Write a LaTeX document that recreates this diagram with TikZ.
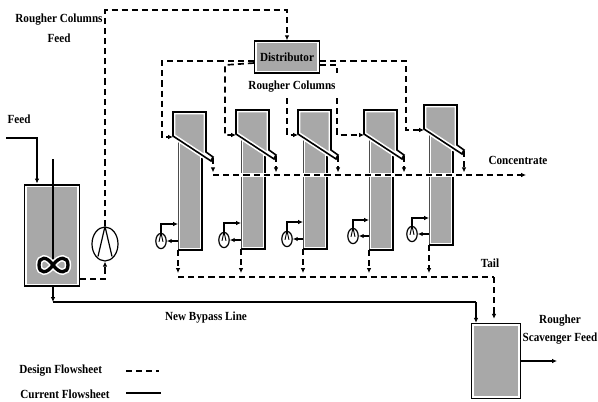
\documentclass[tikz,border=0pt]{standalone}
\usepackage{fontspec}
\setmainfont[FakeStretch=0.9]{Liberation Serif}
\usetikzlibrary{arrows.meta,shapes.geometric}
\definecolor{vesselgray}{HTML}{A8A8A8}
\tikzset{
  design/.style={line width=1.25pt,dash pattern=on 4.6pt off 3pt},
  current/.style={line width=0.9pt},
  tag/.style={font=\bfseries\fontsize{9.3}{10}\selectfont,inner sep=0pt},
  vessel/.style={draw=black,line width=1.1pt,fill=vesselgray,inner sep=0pt,
    path picture={\draw[white,line width=3.6pt] (path picture bounding box.south west)
      rectangle (path picture bounding box.north east);}},
  halo/.style={draw=white,fill=vesselgray,line width=3.6pt,line join=miter},
  pumpbig/.style={draw,ellipse,line width=0.9pt,minimum width=19.5pt,minimum height=25.5pt,inner sep=0pt},
  pumpsmall/.style={draw,ellipse,line width=0.9pt,minimum width=7.8pt,minimum height=11.4pt,inner sep=0pt}
}
\begin{document}
\begin{tikzpicture}[x=0.75pt,y=-0.75pt,>={Latex[length=1.3mm,width=1.2mm]}]
  \useasboundingbox (0,0) rectangle (598,401);
  % columns: number, left, top, bottom
  \foreach \n/\x/\y/\b in {1/173/112/250,2/236/110/249,3/298/110/249,4/364/110/250,5/424/105/245}{
    \begin{scope}[shift={(\x,\y)}]
      \path[halo] (5,30) -- (5,\b-\y) -- (29,\b-\y) -- (29,30) -- cycle;
      \draw[line width=0.7pt,black!70] (5,27) -- (5,\b-\y);
      \draw[line width=1.2pt] (5,\b-\y) -- (29,\b-\y) -- (29,46);
      \path[halo] (0,0) -- (33,0) -- (33,40) -- (40,45) -- (38,49) -- (0,24) -- cycle;
      \draw[line width=1.2pt,line join=miter] (0,24) -- (0,0) -- (33,0) -- (33,40) -- (40,45) -- (38,49) -- cycle;
      \coordinate (col\n-in) at (0,25);
      \coordinate (col\n-tip) at (40,46);
      \coordinate (col\n-out) at (5,\b-\y);
    \end{scope}
  }
  % units
  \node[vessel,minimum width=41.2pt,minimum height=76pt] (tank) at (52,235.5) {};
  \node[vessel,minimum width=36.7pt,minimum height=56.2pt] (scav) at (496,361) {};
  \node[pumpbig] (pump) at (105,244) {};
  \draw[line width=0.9pt] (pump.north) -- ++(-7,30) (pump.north) -- ++(7,30);
  \node[vessel,minimum width=48.6pt,minimum height=24pt,tag] (dist) at (287,57) {Distributor};
  % impeller
  \coordinate (shaft-top) at (53,159);
  \coordinate (imp) at (53,265);
  \draw[line width=1.3pt] (shaft-top) -- (imp);
  \begin{scope}[shift={(imp)}]
    \draw[line width=4.8pt,white] (0,0) .. controls (-6,-9) and (-14,-9) .. (-14,0) .. controls (-14,9) and (-6,9) .. (0,0)
      .. controls (6,-9) and (15,-9) .. (15,0) .. controls (15,9) and (6,9) .. (0,0);
    \draw[line width=2.5pt] (0,0) .. controls (-6,-9) and (-14,-9) .. (-14,0) .. controls (-14,9) and (-6,9) .. (0,0)
      .. controls (6,-9) and (15,-9) .. (15,0) .. controls (15,9) and (6,9) .. (0,0);
  \end{scope}
  % small pumps on the columns
  \foreach \n/\x/\y/\t in {1/161/241/224,2/224/240/223,3/287/239/222,4/353/236/220,5/412/234/218}{
    \node[pumpsmall] (pmp\n) at (\x,\y) {};
    \draw[line width=0.7pt] (pmp\n.north) -- ++(-2,9) (pmp\n.north) -- ++(2,9);
    \draw[current,->] (col\n-out |- pmp\n) -- (pmp\n);
    \draw[current,->] (pmp\n) -- (\x,\t) -- (col\n-out |- {(\x,\t)});
  }
  % feed
  \coordinate (feed-in) at (6,138);
  \draw[current,->] (feed-in) -- (37,138) -- (37,183.5);
  % pump up to the distributor
  \coordinate (tank-exit) at (80,279);
  \draw[design,->] (tank-exit) -- (pump |- tank-exit) -- (pump.south);
  \draw[design,->] (pump.north) -- (105,10) -- (287,10) -- (dist.north);
  % distributor to the columns
  \coordinate (dist-l1) at (254,61);
  \coordinate (dist-l2) at (254,63);
  \coordinate (dist-r1) at (320,61);
  \coordinate (dist-r2) at (320,65);
  \coordinate (feed3-top) at (287,98);
  \coordinate (feed4-top) at (337,98);
  \coordinate (feed4-stub) at (337,73);
  \draw[design,->] (dist-l1) -- (162,61) |- (col1-in);
  \draw[design,->] (dist-l2) -- (225,65) |- (col2-in);
  \draw[design,->] (feed3-top) |- (col3-in);
  \draw[design] (dist-r2) -- (337,65) -- (feed4-stub);
  \draw[design,->] (feed4-top) |- (col4-in);
  \draw[design,->] (dist-r1) -- (406,61) |- (col5-in);
  % concentrate
  \coordinate (conc-start) at (213,175);
  \coordinate (conc-end) at (526,175);
  \draw[design,preaction={draw=white,line width=2.6pt},->] (conc-start) -- (conc-end);
  \foreach \n in {1,...,5}
    \draw[design,->,shorten >=2pt] (col\n-tip) -- (col\n-tip |- conc-start);
  % tail
  \coordinate (tail-start) at (178,277);
  \coordinate (tail-corner) at (494,277);
  \draw[design] (tail-start) -- (tail-corner);
  \draw[design,->,shorten >=3pt] (tail-corner) -- (scav.north -| tail-corner);
  \foreach \n in {1,...,5}
    \draw[design,->,shorten >=3pt] (col\n-out) -- (col\n-out |- tail-start);
  % bypass
  \coordinate (bypass-a) at (53,302);
  \coordinate (bypass-b) at (476,302);
  \draw[current,->] (tank.south -| bypass-a) -- (bypass-a);
  \draw[current] (bypass-a) -- (bypass-b);
  \draw[current,->] (bypass-b) -- (scav.north -| bypass-b);
  \coordinate (scav-exit) at (557,361);
  \draw[current,->] (scav.east |- scav-exit) -- (scav-exit);
  % labels
  \node[tag,align=center] (lbl-feed1) at (59,28) {Rougher Columns\\[5pt]Feed};
  \node[tag] (lbl-feed2) at (19,119) {Feed};
  \node[tag] (lbl-cols) at (292,87) {Rougher Columns};
  \node[tag] (lbl-conc) at (518,160) {Concentrate};
  \node[tag] (lbl-tail) at (490,263) {Tail};
  \node[tag] (lbl-bypass) at (206,318) {New Bypass Line};
  \node[tag,align=center] (lbl-scav) at (560,329.5) {Rougher\\[3.5pt]Scavenger Feed};
  % legend
  \node[tag,anchor=west] (lgd-design) at (19,371) {Design Flowsheet};
  \node[tag,anchor=west] (lgd-current) at (20,394) {Current Flowsheet};
  \coordinate (lgd-d1) at (126,371);
  \coordinate (lgd-d2) at (159,371);
  \coordinate (lgd-c1) at (126,393);
  \coordinate (lgd-c2) at (161,393);
  \draw[design] (lgd-d1) -- (lgd-d2);
  \draw[line width=1.2pt] (lgd-c1) -- (lgd-c2);
\end{tikzpicture}
\end{document}
